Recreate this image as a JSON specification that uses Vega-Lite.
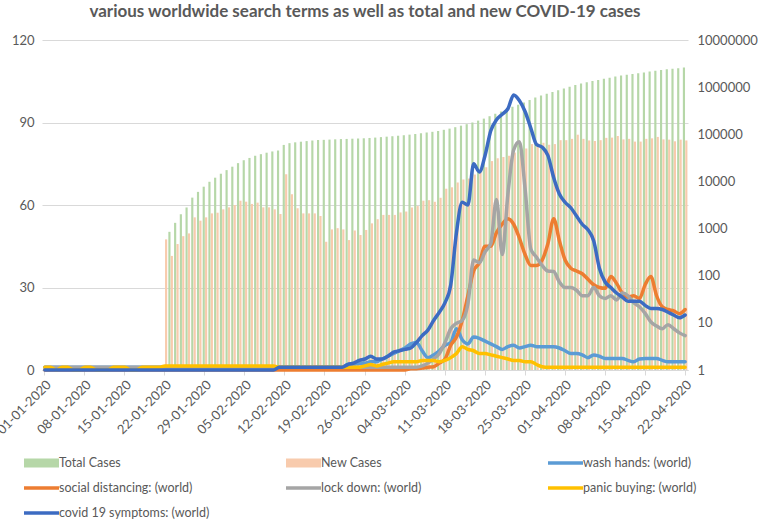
{
"$schema": "https://vega.github.io/schema/vega-lite/v6.json",
"autosize": {"type": "none"},
"width": 646, "height": 330,
"padding": {"left": 42, "top": 40, "right": 70, "bottom": 150},
"config": {"view": {"stroke": null}, "font": "Lato"},
"title": {"text": "various worldwide search terms as well as total and new COVID-19 cases", "font": "Lato", "fontSize": 17, "fontWeight": "bold", "color": "#595959", "anchor": "middle", "offset": 13},
"data": {"values": [
{"date":"2020-01-01","wash":1,"social":0,"lock":1,"panic":1,"symptoms":0},
{"date":"2020-01-02","wash":1,"social":0,"lock":1,"panic":1,"symptoms":0},
{"date":"2020-01-03","wash":1,"social":0,"lock":1,"panic":0,"symptoms":0},
{"date":"2020-01-04","wash":1,"social":0,"lock":1,"panic":1,"symptoms":0},
{"date":"2020-01-05","wash":1,"social":0,"lock":1,"panic":1,"symptoms":0},
{"date":"2020-01-06","wash":1,"social":0,"lock":1,"panic":0,"symptoms":0},
{"date":"2020-01-07","wash":1,"social":0,"lock":1,"panic":0,"symptoms":0},
{"date":"2020-01-08","wash":1,"social":0,"lock":1,"panic":1,"symptoms":0},
{"date":"2020-01-09","wash":1,"social":0,"lock":1,"panic":1,"symptoms":0},
{"date":"2020-01-10","wash":1,"social":0,"lock":1,"panic":0,"symptoms":0},
{"date":"2020-01-11","wash":1,"social":0,"lock":1,"panic":0,"symptoms":0},
{"date":"2020-01-12","wash":1,"social":0,"lock":1,"panic":0,"symptoms":0},
{"date":"2020-01-13","wash":1,"social":0,"lock":1,"panic":1,"symptoms":0},
{"date":"2020-01-14","wash":1,"social":0,"lock":1,"panic":1,"symptoms":0},
{"date":"2020-01-15","wash":1,"social":0,"lock":1,"panic":1,"symptoms":0},
{"date":"2020-01-16","wash":1,"social":0,"lock":1,"panic":0,"symptoms":0},
{"date":"2020-01-17","wash":1,"social":0,"lock":1,"panic":0,"symptoms":0},
{"date":"2020-01-18","wash":1,"social":0,"lock":1,"panic":1,"symptoms":0},
{"date":"2020-01-19","wash":1,"social":0,"lock":1,"panic":1,"symptoms":0},
{"date":"2020-01-20","wash":1,"social":0,"lock":1,"panic":1,"symptoms":0},
{"date":"2020-01-21","wash":1,"social":0,"lock":1,"panic":1,"symptoms":0},
{"date":"2020-01-22","new":590,"wash":1,"social":0,"lock":1,"panic":1.5,"symptoms":0},
{"date":"2020-01-23","total":853,"new":263,"wash":1,"social":0,"lock":1,"panic":1.5,"symptoms":0},
{"date":"2020-01-24","total":1323,"new":470,"wash":1,"social":0,"lock":1,"panic":1.5,"symptoms":0},
{"date":"2020-01-25","total":2013,"new":690,"wash":1,"social":0,"lock":1,"panic":1.5,"symptoms":0},
{"date":"2020-01-26","total":2803,"new":790,"wash":1,"social":0,"lock":1,"panic":1.5,"symptoms":0},
{"date":"2020-01-27","total":4533,"new":1730,"wash":1,"social":0,"lock":1,"panic":1.5,"symptoms":0},
{"date":"2020-01-28","total":6003,"new":1470,"wash":1,"social":0,"lock":1,"panic":1.5,"symptoms":0},
{"date":"2020-01-29","total":7733,"new":1730,"wash":1,"social":0,"lock":1,"panic":1.5,"symptoms":0},
{"date":"2020-01-30","total":9833,"new":2100,"wash":1,"social":0,"lock":1,"panic":1.5,"symptoms":0},
{"date":"2020-01-31","total":12003,"new":2170,"wash":1,"social":0,"lock":1,"panic":1.5,"symptoms":0},
{"date":"2020-02-01","total":14563,"new":2560,"wash":1,"social":0,"lock":1,"panic":1.5,"symptoms":0},
{"date":"2020-02-02","total":17383,"new":2820,"wash":1,"social":0,"lock":1,"panic":1.5,"symptoms":0},
{"date":"2020-02-03","total":20543,"new":3160,"wash":1,"social":0,"lock":1,"panic":1.5,"symptoms":0},
{"date":"2020-02-04","total":24443,"new":3900,"wash":1,"social":0,"lock":1,"panic":1.5,"symptoms":0},
{"date":"2020-02-05","total":28163,"new":3720,"wash":1,"social":0,"lock":1,"panic":1.5,"symptoms":0},
{"date":"2020-02-06","total":31493,"new":3330,"wash":1,"social":0,"lock":1,"panic":1.5,"symptoms":0},
{"date":"2020-02-07","total":35043,"new":3550,"wash":1,"social":0,"lock":1,"panic":1.5,"symptoms":0},
{"date":"2020-02-08","total":37863,"new":2820,"wash":1,"social":0,"lock":1,"panic":1.5,"symptoms":0},
{"date":"2020-02-09","total":40683,"new":2820,"wash":1,"social":0,"lock":1,"panic":1.5,"symptoms":0},
{"date":"2020-02-10","total":43243,"new":2560,"wash":1,"social":0,"lock":1,"panic":1.5,"symptoms":0},
{"date":"2020-02-11","total":45283,"new":2040,"wash":1,"social":0,"lock":1,"panic":1,"symptoms":1},
{"date":"2020-02-12","total":59483,"new":14200,"wash":1,"social":0,"lock":1,"panic":1,"symptoms":1},
{"date":"2020-02-13","total":64833,"new":5350,"wash":1,"social":0,"lock":1,"panic":1,"symptoms":1},
{"date":"2020-02-14","total":67523,"new":2690,"wash":1,"social":0,"lock":1,"panic":1,"symptoms":1},
{"date":"2020-02-15","total":69623,"new":2100,"wash":1,"social":0,"lock":1,"panic":1,"symptoms":1},
{"date":"2020-02-16","total":71723,"new":2100,"wash":1,"social":0,"lock":1,"panic":1,"symptoms":1},
{"date":"2020-02-17","total":73823,"new":2100,"wash":1,"social":0,"lock":1,"panic":1,"symptoms":1},
{"date":"2020-02-18","total":75673,"new":1850,"wash":1,"social":0,"lock":1,"panic":1,"symptoms":1},
{"date":"2020-02-19","total":76198,"new":525,"wash":1,"social":0,"lock":1,"panic":1,"symptoms":1},
{"date":"2020-02-20","total":77158,"new":960,"wash":1,"social":0,"lock":1,"panic":1,"symptoms":1},
{"date":"2020-02-21","total":78178,"new":1020,"wash":1,"social":0,"lock":1,"panic":1,"symptoms":1},
{"date":"2020-02-22","total":79138,"new":960,"wash":1,"social":0,"lock":1,"panic":1,"symptoms":1},
{"date":"2020-02-23","total":79708,"new":570,"wash":2,"social":0,"lock":1,"panic":1,"symptoms":2},
{"date":"2020-02-24","total":80618,"new":910,"wash":2,"social":0,"lock":1,"panic":1,"symptoms":2.5},
{"date":"2020-02-25","total":81348,"new":730,"wash":2.5,"social":0,"lock":1,"panic":1,"symptoms":3.5},
{"date":"2020-02-26","total":82283,"new":935,"wash":2.5,"social":0,"lock":1,"panic":1.5,"symptoms":4},
{"date":"2020-02-27","total":83573,"new":1290,"wash":3,"social":0,"lock":1,"panic":2,"symptoms":5},
{"date":"2020-02-28","total":85153,"new":1580,"wash":3,"social":0,"lock":1,"panic":1.5,"symptoms":4},
{"date":"2020-02-29","total":87103,"new":1950,"wash":4,"social":0,"lock":1,"panic":2,"symptoms":4},
{"date":"2020-03-01","total":89053,"new":1950,"wash":5,"social":0,"lock":1,"panic":2.5,"symptoms":5},
{"date":"2020-03-02","total":91003,"new":1950,"wash":6,"social":0,"lock":1,"panic":3,"symptoms":6.5},
{"date":"2020-03-03","total":93203,"new":2200,"wash":7,"social":0,"lock":1,"panic":3,"symptoms":7},
{"date":"2020-03-04","total":95503,"new":2300,"wash":8,"social":0,"lock":1,"panic":3,"symptoms":7.5},
{"date":"2020-03-05","total":98303,"new":2800,"wash":9.5,"social":0.5,"lock":1,"panic":3,"symptoms":8},
{"date":"2020-03-06","total":101303,"new":3000,"wash":10,"social":0.5,"lock":1,"panic":3,"symptoms":10},
{"date":"2020-03-07","total":105203,"new":3900,"wash":7,"social":0.7,"lock":1.5,"panic":3.5,"symptoms":12.5},
{"date":"2020-03-08","total":109203,"new":4000,"wash":4.5,"social":1,"lock":2.5,"panic":3.5,"symptoms":14.5},
{"date":"2020-03-09","total":112903,"new":3700,"wash":5.5,"social":1.2,"lock":4,"panic":3.5,"symptoms":18},
{"date":"2020-03-10","total":117403,"new":4500,"wash":7,"social":2.5,"lock":6,"panic":3,"symptoms":21},
{"date":"2020-03-11","total":124403,"new":7000,"wash":9,"social":4,"lock":10,"panic":3.5,"symptoms":24.5},
{"date":"2020-03-12","total":131903,"new":7500,"wash":10,"social":9,"lock":15,"panic":4.5,"symptoms":31},
{"date":"2020-03-13","total":141403,"new":9500,"wash":15,"social":12,"lock":17,"panic":6,"symptoms":50},
{"date":"2020-03-14","total":152403,"new":11000,"wash":11,"social":18,"lock":18,"panic":8.5,"symptoms":61},
{"date":"2020-03-15","total":163903,"new":11500,"wash":9.5,"social":27,"lock":24,"panic":7.5,"symptoms":60},
{"date":"2020-03-16","total":177903,"new":14000,"wash":12,"social":36,"lock":40,"panic":7,"symptoms":75},
{"date":"2020-03-17","total":194903,"new":17000,"wash":11.5,"social":39,"lock":39,"panic":6,"symptoms":72},
{"date":"2020-03-18","total":214903,"new":20000,"wash":10.5,"social":45,"lock":43,"panic":6,"symptoms":78},
{"date":"2020-03-19","total":241903,"new":27000,"wash":9.5,"social":45,"lock":46,"panic":5.5,"symptoms":87},
{"date":"2020-03-20","total":272903,"new":31000,"wash":8.5,"social":50,"lock":62,"panic":5,"symptoms":91},
{"date":"2020-03-21","total":305903,"new":33000,"wash":7.5,"social":53,"lock":42,"panic":4.5,"symptoms":93},
{"date":"2020-03-22","total":340903,"new":35000,"wash":8.5,"social":55,"lock":64,"panic":4,"symptoms":95},
{"date":"2020-03-23","total":381903,"new":41000,"wash":9,"social":53,"lock":80,"panic":3.5,"symptoms":100},
{"date":"2020-03-24","total":424903,"new":43000,"wash":8,"social":48,"lock":83,"panic":3.5,"symptoms":98},
{"date":"2020-03-25","total":474903,"new":50000,"wash":8.5,"social":42,"lock":66,"panic":3,"symptoms":94},
{"date":"2020-03-26","total":536903,"new":62000,"wash":9,"social":38,"lock":44,"panic":3,"symptoms":88},
{"date":"2020-03-27","total":600903,"new":64000,"wash":8.5,"social":38,"lock":41,"panic":2,"symptoms":82},
{"date":"2020-03-28","total":666903,"new":66000,"wash":8.5,"social":40,"lock":38,"panic":1.2,"symptoms":81},
{"date":"2020-03-29","total":726903,"new":60000,"wash":8.5,"social":46,"lock":36,"panic":1,"symptoms":78},
{"date":"2020-03-30","total":788903,"new":62000,"wash":8.5,"social":55,"lock":35.8,"panic":1,"symptoms":70},
{"date":"2020-03-31","total":863903,"new":75000,"wash":8,"social":47,"lock":32,"panic":1,"symptoms":64},
{"date":"2020-04-01","total":938903,"new":75000,"wash":7,"social":40,"lock":30,"panic":1,"symptoms":61},
{"date":"2020-04-02","total":1018903,"new":80000,"wash":6,"social":37,"lock":30,"panic":1,"symptoms":59},
{"date":"2020-04-03","total":1116903,"new":98000,"wash":6,"social":36,"lock":29,"panic":1,"symptoms":56},
{"date":"2020-04-04","total":1196903,"new":80000,"wash":5.5,"social":35,"lock":27,"panic":1,"symptoms":53},
{"date":"2020-04-05","total":1270903,"new":74000,"wash":4.5,"social":33,"lock":27,"panic":1,"symptoms":51},
{"date":"2020-04-06","total":1342903,"new":72000,"wash":5.5,"social":31,"lock":30,"panic":1,"symptoms":47},
{"date":"2020-04-07","total":1417903,"new":75000,"wash":5,"social":30,"lock":27,"panic":1,"symptoms":37},
{"date":"2020-04-08","total":1501903,"new":84000,"wash":4.2,"social":29.7,"lock":26,"panic":1,"symptoms":32},
{"date":"2020-04-09","total":1586903,"new":85000,"wash":4.2,"social":34,"lock":27,"panic":1,"symptoms":30},
{"date":"2020-04-10","total":1678903,"new":92000,"wash":4.2,"social":31.5,"lock":25.5,"panic":1,"symptoms":28},
{"date":"2020-04-11","total":1756903,"new":78000,"wash":4.2,"social":28,"lock":28,"panic":1,"symptoms":26.5},
{"date":"2020-04-12","total":1836903,"new":80000,"wash":3.5,"social":26.5,"lock":27,"panic":1,"symptoms":25},
{"date":"2020-04-13","total":1906903,"new":70000,"wash":3,"social":27,"lock":24.5,"panic":1,"symptoms":25},
{"date":"2020-04-14","total":1976903,"new":70000,"wash":4,"social":26,"lock":23,"panic":1,"symptoms":25},
{"date":"2020-04-15","total":2056903,"new":80000,"wash":4.2,"social":31,"lock":20.6,"panic":1,"symptoms":23.5},
{"date":"2020-04-16","total":2138903,"new":82000,"wash":4.2,"social":34,"lock":17.5,"panic":1,"symptoms":22.4},
{"date":"2020-04-17","total":2226903,"new":88000,"wash":4.2,"social":27,"lock":16,"panic":1,"symptoms":22.4},
{"date":"2020-04-18","total":2304903,"new":78000,"wash":3.5,"social":23,"lock":15,"panic":1,"symptoms":22},
{"date":"2020-04-19","total":2381903,"new":77000,"wash":3,"social":22,"lock":16.5,"panic":1,"symptoms":21},
{"date":"2020-04-20","total":2452903,"new":71000,"wash":3,"social":21.5,"lock":15,"panic":1,"symptoms":20},
{"date":"2020-04-21","total":2529903,"new":77000,"wash":3,"social":20.5,"lock":13.5,"panic":1,"symptoms":19},
{"date":"2020-04-22","total":2603903,"new":74000,"wash":3,"social":22,"lock":12.5,"panic":1,"symptoms":20}
]},
"layer": [
{
"transform": [{"fold": ["total", "new"], "as": ["series", "cases"]}, {"filter": "datum.cases > 0"}],
"mark": {"type": "bar"},
"encoding": {
"x": {"field": "date", "type": "ordinal", "scale": {"type": "band", "paddingInner": 0.2, "paddingOuter": 0.1},
 "axis": {"values": ["2020-01-01","2020-01-08","2020-01-15","2020-01-22","2020-01-29","2020-02-05","2020-02-12","2020-02-19","2020-02-26","2020-03-04","2020-03-11","2020-03-18","2020-03-25","2020-04-01","2020-04-08","2020-04-15","2020-04-22"],
 "labelExpr": "slice(datum.value,8,10)+'-'+slice(datum.value,5,7)+'-'+slice(datum.value,0,4)",
 "labelAngle": -45, "labelColor": "#595959", "labelFontSize": 13, "labelFont": "Lato", "domainColor": "#d9d9d9", "tickColor": "#d9d9d9", "tickSize": 5, "title": null, "grid": false, "labelPadding": 3}},
"xOffset": {"field": "series", "scale": {"domain": ["total", "new"], "paddingInner": 0.1}},
"y": {"field": "cases", "type": "quantitative", "stack": null, "scale": {"type": "log", "domain": [1, 10000000]},
 "axis": {"orient": "right", "values": [1,10,100,1000,10000,100000,1000000,10000000], "format": "d", "grid": false, "domain": false, "ticks": false, "labelPadding": 9, "labelColor": "#595959", "labelFontSize": 13, "labelFont": "Lato", "title": null}},
"color": {"field": "series", "type": "nominal",
 "scale": {"domain": ["total","new","wash","social","lock","panic","symptoms"], "range": ["#b6d7a8","#f8cbad","#5b9bd5","#ed7d31","#a5a5a5","#ffc000","#3c6bc2"]},
 "legend": {"orient": "none", "legendX": -20, "legendY": 415, "columns": 3, "direction": "horizontal", "title": null, "gridAlign": "all", "columnPadding": 74, "rowPadding": 9, "clipHeight": 16, "symbolSize": 100, "labelOffset": 23, "labelFontSize": 12.5, "labelFont": "Lato", "labelColor": "#595959", "labelLimit": 300,
 "labelExpr": "datum.value == 'total' ? 'Total Cases' : datum.value == 'new' ? 'New Cases' : datum.value == 'wash' ? 'wash hands: (world)' : datum.value == 'social' ? 'social distancing: (world)' : datum.value == 'lock' ? 'lock down: (world)' : datum.value == 'panic' ? 'panic buying: (world)' : 'covid 19 symptoms: (world)'",
 "encode": {"symbols": {"update": {
   "shape": {"signal": "(datum.value == 'total' || datum.value == 'new') ? 'M-0.65,-0.55H5.65V0.55H-0.65Z' : 'M-1,0H6M-1,-0.55L-1,-0.55M-1,0.55L-1,0.55'"},
   "fill": {"signal": "(datum.value == 'total' || datum.value == 'new') ? scale('color', datum.value) : 'transparent'"},
   "stroke": {"signal": "scale('color', datum.value)"},
   "strokeWidth": {"value": 3.5}, "strokeCap": {"value": "butt"}, "strokeJoin": {"value": "miter"}, "opacity": {"value": 1}}}}}}
}
},
{
"transform": [{"fold": ["wash", "social", "lock", "panic", "symptoms"], "as": ["series", "trend"]}],
"mark": {"type": "line", "strokeWidth": 3.5, "interpolate": "monotone", "strokeCap": "round", "strokeJoin": "round"},
"encoding": {
"x": {"field": "date", "type": "ordinal", "scale": {"type": "band", "paddingInner": 0.2, "paddingOuter": 0.1}},
"y": {"field": "trend", "type": "quantitative", "scale": {"domain": [0, 120]},
 "axis": {"orient": "left", "values": [0,30,60,90,120], "grid": true, "gridColor": "#d9d9d9", "domain": false, "ticks": false, "labelColor": "#595959", "labelFontSize": 13, "labelFont": "Lato", "labelPadding": 8, "title": null}},
"color": {"field": "series", "type": "nominal"}
}
}
],
"resolve": {"scale": {"y": "independent"}}
}
